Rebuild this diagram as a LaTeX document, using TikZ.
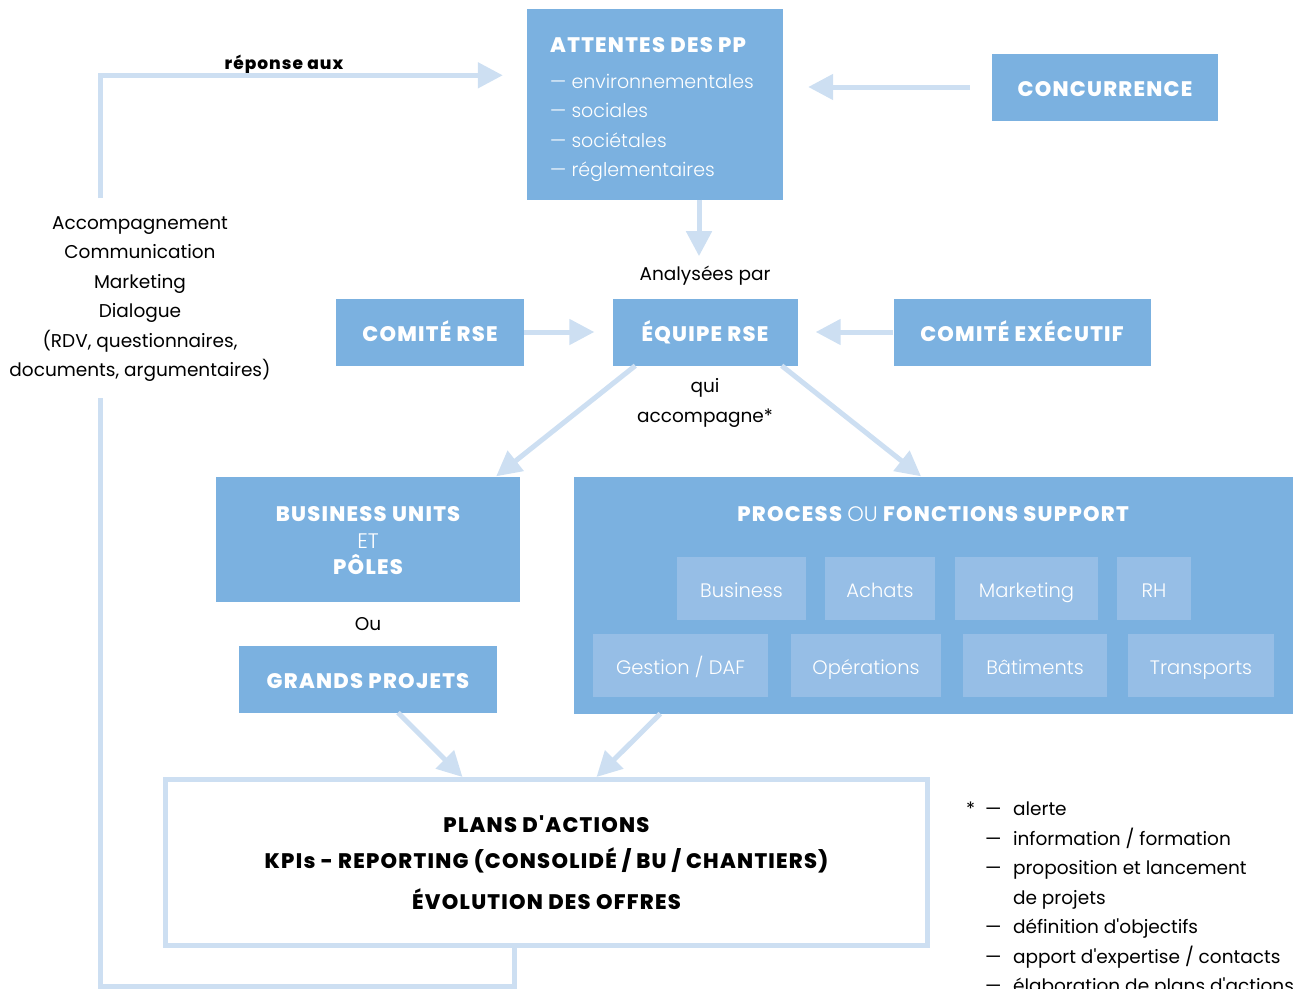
\documentclass[tikz,border=0pt]{standalone}
\usepackage{fontspec}
\setmainfont{Poppins}[Ligatures=TeXOff,BoldFont={Poppins ExtraBold},BoldFeatures={LetterSpace=6}]
\newfontfamily\fin{Poppins Light}[Ligatures=TeXOff]
\usetikzlibrary{arrows.meta,positioning}
\definecolor{bleu}{RGB}{123,177,224}
\definecolor{bleuclair}{RGB}{150,190,230}
\definecolor{fleche}{RGB}{205,223,242}
\begin{document}
\begin{tikzpicture}[x=1pt,y=-1pt,>={Triangle[length=25pt,width=25pt]},
    boite/.style={fill=bleu,text=white,inner sep=0pt,font=\fontsize{21}{26.5}\selectfont\bfseries},
    majuscules/.style={text height=19.5pt,text depth=0pt},
    petite/.style={fill=bleuclair,text=white,inner sep=0pt,minimum height=63pt,text height=18pt,text depth=0pt,font=\fontsize{19.5}{22}\selectfont\fin},
    txt/.style={inner sep=0pt,font=\fontsize{18.5}{29.5}\selectfont},
    lien/.style={draw=fleche,line width=5pt,->}]
    \useasboundingbox (0,0) rectangle (1293,988);
    \node[boite,minimum width=256pt,minimum height=191pt] (attentes) at (655,104) {};
    \node[boite,anchor=west] (titre) at (550,45) {ATTENTES DES PP};
    \foreach \t [count=\i] in {environnementales,sociales,sociétales,réglementaires}
        \node[txt,text=white,font=\fontsize{19}{22}\selectfont\fin,anchor=base west] (pp\i) at (550,{88.5+29.3*(\i-1)}) {— \t};
    \node[boite,majuscules,minimum width=226pt,minimum height=67pt] (concurrence) at (1105,87) {CONCURRENCE};
    \node[txt] (analyse) at (705,276) {Analysées par};
    \node[boite,majuscules,minimum width=188pt,minimum height=67pt] (comite) at (430,332) {COMITÉ RSE};
    \node[boite,majuscules,minimum width=185pt,minimum height=67pt] (equipe) at (705,332) {ÉQUIPE RSE};
    \node[boite,majuscules,minimum width=257pt,minimum height=67pt] (comex) at (1022,332) {COMITÉ EXÉCUTIF};
    \node[txt,align=center] (qui) at (705,403) {qui\\accompagne*};
    \node[txt,align=center] (moyens) at (140,299) {Accompagnement\\Communication\\Marketing\\Dialogue\\(RDV, questionnaires,\\documents, argumentaires)};
    \node[txt,font=\fontsize{17}{22}\selectfont\bfseries] (reponse) at (284,65) {réponse aux};
    \node[boite,minimum width=304pt,minimum height=125pt] (bu) at (368,539) {};
    \node[boite,fill=none,align=center] (butexte) at (368,541) {BUSINESS UNITS\\{\fin\mdseries ET}\\PÔLES};
    \node[txt] (ou) at (368,624) {Ou};
    \node[boite,majuscules,minimum width=258pt,minimum height=67pt] (projets) at (368,679) {GRANDS PROJETS};
    \node[boite,minimum width=719pt,minimum height=237pt] (process) at (933,595) {};
    \node[boite] (ptitre) at (933,514) {PROCESS {\fin\mdseries OU} FONCTIONS SUPPORT};
    \foreach \n/\x/\w [count=\i] in {Business/741.5/129,Achats/880/110,Marketing/1026.5/143,RH/1154/74}
        \node[petite,minimum width=\w pt] (f\i) at (\x,588) {\n};
    \foreach \n/\x/\w [count=\i] in {{Gestion / DAF}/680.5/175,Opérations/866/150,Bâtiments/1035/144,Transports/1201/146}
        \node[petite,minimum width=\w pt] (g\i) at (\x,665.5) {\n};
    \node[draw=fleche,line width=5pt,minimum width=762pt,minimum height=166pt,align=center,inner sep=0pt,font=\fontsize{21}{36}\selectfont\bfseries] (plans) at (546.5,862.5) {PLANS D'ACTIONS\\KPIs - REPORTING (CONSOLIDÉ / BU / CHANTIERS)\\[5pt]ÉVOLUTION DES OFFRES};
    \node[txt,anchor=north west] (notes) at (966,795) {\begin{tabular}{@{}l@{\hspace{10pt}}l@{\hspace{11.5pt}}l@{}}
        *&—&alerte\\&—&information / formation\\&—&proposition et lancement\\&&de projets\\
        &—&définition d'objectifs\\&—&apport d'expertise / contacts\\&—&élaboration de plans d'actions\end{tabular}};
    \draw[lien,shorten <=22pt,shorten >=25pt] (concurrence.west) -- (concurrence.west -| attentes.east);
    \draw[lien,shorten >=10pt] ([xshift=44pt]attentes.south) -- ([xshift=44pt]attentes.south |- analyse.north);
    \draw[lien,shorten >=18pt] (comite) -- (equipe);
    \draw[lien,shorten >=18pt] (comex) -- (equipe);
    \draw[lien] ([xshift=23pt]equipe.south west) -- ([xshift=-24pt]bu.north east);
    \draw[lien] ([xshift=-16pt]equipe.south east) -- ([xshift=-12pt]process.north);
    \draw[lien] ([xshift=30pt]projets.south) -- ([xshift=-84pt]plans.north);
    \draw[lien] ([xshift=87pt]process.south west) -- ([xshift=50pt]plans.north);
    \draw[draw=fleche,line width=5pt,shorten >=16pt] ([xshift=-32pt]plans.south) -- ++(0,38) -| ([xshift=-40pt]moyens.south);
    \draw[lien,shorten <=18pt,shorten >=24pt] ([xshift=-40pt]moyens.north) |- ([yshift=-67pt]attentes.north west);
\end{tikzpicture}
\end{document}
